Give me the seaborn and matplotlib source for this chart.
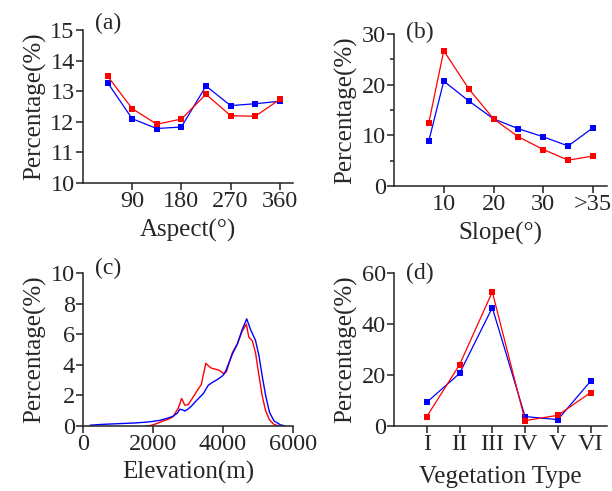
import numpy as np
import pandas as pd
import matplotlib
matplotlib.use("Agg")
import matplotlib.pyplot as plt
import seaborn as sns
from matplotlib.ticker import MultipleLocator

# (a) экспозиция склона
aspect = [45, 90, 135, 180, 225, 270, 315, 360]
aspect_red = [13.49, 12.43, 11.92, 12.09, 12.9, 12.2, 12.18, 12.73]
aspect_blue = [13.28, 12.1, 11.78, 11.83, 13.17, 12.53, 12.59, 12.67]

# (b) крутизна склона
slope = [7, 10, 15, 20, 25, 30, 35, 40]
slope_red = [12.5, 26.7, 19.2, 13.25, 9.7, 7.2, 5.1, 5.9]
slope_blue = [8.9, 20.7, 16.8, 13.25, 11.3, 9.7, 7.9, 11.5]
slope_ticks = [10, 20, 30, 40]
slope_labels = ["10", "20", "30", ">35"]

# (c) высота
elev_blue = [200, 500, 1000, 1500, 1800, 2000, 2200, 2400, 2570, 2700, 2770, 2850,
             2910, 3000, 3100, 3250, 3440, 3580, 3700, 3850, 4000, 4080, 4270, 4410,
             4550, 4680, 4790, 4930, 5030, 5120, 5220, 5330, 5460, 5650, 5750]
pct_blue = [0.05, 0.1, 0.15, 0.2, 0.25, 0.3, 0.37, 0.5, 0.63, 0.85, 1.1, 1.05,
            0.98, 1.1, 1.3, 1.68, 2.12, 2.66, 2.85, 3.05, 3.3, 3.6, 4.7, 5.35,
            6.3, 7.0, 6.3, 5.6, 4.6, 3.3, 2.0, 0.9, 0.33, 0.07, 0.02]
elev_red = [1800, 1910, 2100, 2290, 2450, 2570, 2720, 2820, 2910, 3010, 3150, 3290,
            3380, 3510, 3600, 3670, 3890, 4030, 4100, 4270, 4410, 4550, 4670, 4740,
            4840, 4930, 5030, 5120, 5220, 5330, 5460, 5600]
pct_red = [0.0, 0.02, 0.15, 0.33, 0.45, 0.6, 1.15, 1.8, 1.36, 1.4, 1.9, 2.4,
           2.7, 4.1, 3.9, 3.78, 3.65, 3.4, 3.55, 4.8, 5.35, 6.2, 6.66, 5.8,
           5.57, 4.8, 3.3, 2.0, 1.0, 0.4, 0.1, 0.0]

# (d) тип растительности
veg = [1, 2, 3, 4, 5, 6]
veg_labels = ["I", "II", "III", "IV", "V", "VI"]
veg_red = [3.7, 24.0, 52.6, 2.1, 4.2, 13.1]
veg_blue = [9.3, 20.6, 46.4, 3.7, 2.5, 17.6]

RED = "#ff0000"
BLUE = "#0000ff"

sns.set_style("ticks")
plt.rcParams["font.family"] = ["Liberation Serif", "DejaVu Serif"]
plt.rcParams["mathtext.fontset"] = "stix"

fig = plt.figure(figsize=(6.12, 4.91), dpi=100)
ax_a = fig.add_axes([0.1356, 0.6273, 0.343, 0.3116])
ax_b = fig.add_axes([0.6438, 0.6212, 0.348, 0.3096])
ax_c = fig.add_axes([0.1356, 0.1324, 0.343, 0.3116])
ax_d = fig.add_axes([0.6438, 0.1324, 0.348, 0.3116])


def draw_pair(ax, x, red, blue, marker="s", red_first=False):
    order = [(red, RED), (blue, BLUE)] if red_first else [(blue, BLUE), (red, RED)]
    for y, c in order:
        df = pd.DataFrame({"x": x, "y": y})
        sns.lineplot(data=df, x="x", y="y", ax=ax, color=c, lw=0.9,
                     marker=marker, markersize=5, markeredgecolor=c,
                     markeredgewidth=0, sort=False, estimator=None)


def style(ax, xlabel, tag, tag_pos, xpad=6):
    sns.despine(ax=ax)
    for s in ("left", "bottom"):
        ax.spines[s].set_linewidth(1.1)
        ax.spines[s].set_color("#222222")
    ax.tick_params(axis="both", which="major", direction="out", length=5,
                   width=1.1, labelsize=17.5, pad=1, color="#222222")
    ax.tick_params(axis="both", which="minor", direction="out", length=3,
                   width=1.1, color="#222222")
    ax.set_xlabel(xlabel, fontsize=18, labelpad=xpad)
    ax.set_ylabel("Percentage(%)", fontsize=18, labelpad=3)
    ax.text(tag_pos[0], tag_pos[1], tag, transform=ax.transAxes,
            fontsize=17, va="center", ha="left")


# (a)
draw_pair(ax_a, aspect, aspect_red, aspect_blue)
ax_a.set_xlim(0, 384)
ax_a.set_ylim(10, 15)
ax_a.set_xticks([90, 180, 270, 360])
ax_a.set_yticks([10, 11, 12, 13, 14, 15])
style(ax_a, "Aspect(°)", "(a)", (0.057, 1.046), xpad=5)

# (b)
draw_pair(ax_b, slope, slope_red, slope_blue)
ax_b.set_xlim(0, 42.8)
ax_b.set_ylim(0, 30)
ax_b.set_xticks(slope_ticks)
ax_b.set_xticklabels(slope_labels)
ax_b.set_yticks([0, 10, 20, 30])
ax_b.yaxis.set_minor_locator(MultipleLocator(5))
style(ax_b, "Slope(°)", "(b)", (0.056, 1.01), xpad=5)

# (c)
for x, y, c in [(elev_red, pct_red, RED), (elev_blue, pct_blue, BLUE)]:
    sns.lineplot(x=x, y=y, ax=ax_c, color=c, lw=1.0, sort=False, estimator=None)
ax_c.set_xlim(0, 6000)
ax_c.set_ylim(0, 10)
ax_c.set_xticks([0, 2000, 4000, 6000])
ax_c.set_yticks([0, 2, 4, 6, 8, 10])
style(ax_c, "Elevation(m)", "(c)", (0.057, 1.03), xpad=4)

# (d)
draw_pair(ax_d, veg, veg_red, veg_blue)
ax_d.set_xlim(0, 6.5)
ax_d.set_ylim(0, 60)
ax_d.set_xticks(veg)
ax_d.set_xticklabels(veg_labels)
ax_d.set_yticks([0, 20, 40, 60])
style(ax_d, "Vegetation Type", "(d)", (0.056, 1.0), xpad=8)

fig.savefig("out.png", dpi=100)
